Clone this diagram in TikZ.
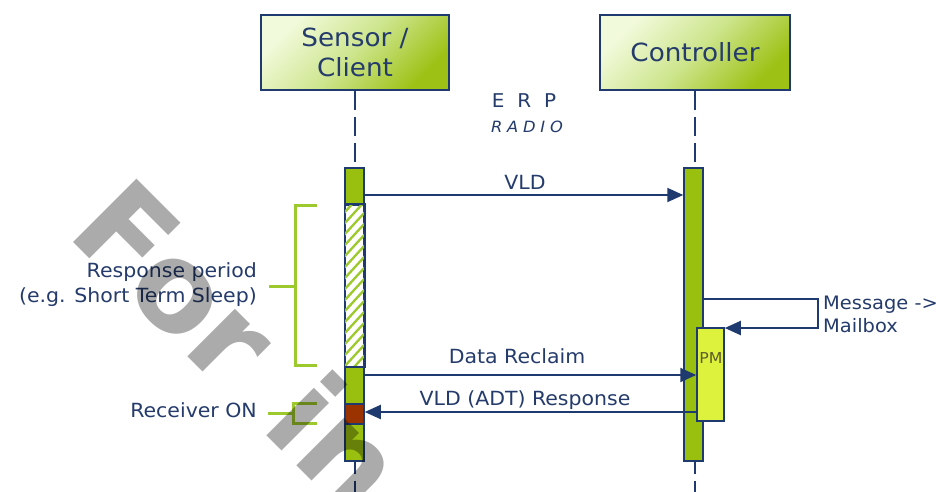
\documentclass[tikz,border=0pt]{standalone}
\usepackage{fontspec}
\setmainfont{DejaVu Sans}[FakeStretch=1.05]
\newfontfamily\wmfont{DejaVu Sans Bold}
\usetikzlibrary{arrows.meta}
\definecolor{navy}{HTML}{1F3A6E}
\definecolor{txt}{HTML}{243B6B}
\definecolor{barg}{HTML}{99BF0F}
\definecolor{brk}{HTML}{9CC92B}
\definecolor{rx}{HTML}{9B3300}
\definecolor{pmy}{HTML}{DDF23C}
\definecolor{boxlight}{HTML}{F2FADC}
\definecolor{boxmid}{HTML}{CDE58C}
\definecolor{boxdark}{HTML}{9DC114}
\definecolor{pmtxt}{HTML}{5B5B2B}
\tikzset{
 lifebox/.style={draw=navy, line width=1.8pt, top color=boxlight, bottom color=boxdark, middle color=boxmid, shading angle=45,
   minimum height=75pt, inner sep=0pt, font=\fontsize{25}{30}\selectfont, text=txt, align=center},
 lifeline/.style={draw=navy, line width=2pt, dash pattern=on 19pt off 7pt},
 barseg/.style={draw=navy, line width=1.5pt, minimum width=19pt, inner sep=0pt, anchor=north},
 msg/.style={draw=navy, line width=2pt, -{Triangle[length=16pt,width=14pt]}},
 lbl/.style={font=\fontsize{19.5}{24}\selectfont, text=txt, inner sep=0pt},
 bracketline/.style={draw=brk, line width=3pt},
}
\begin{document}
\begin{tikzpicture}[x=1pt,y=-1pt]
\useasboundingbox (0,0) rectangle (941,491);
\fill[white] (0,0) rectangle (941,491);
\clip (0,0) rectangle (941,491);
% lifeline heads
\node[lifebox, minimum width=188pt] (sensor) at (355,52.5) {Sensor /\\Client};
\node[lifebox, minimum width=190pt] (ctrl) at (695,52.5) {Controller};
\coordinate (sEnd) at (355,495);
\coordinate (cEnd) at (695,495);
\draw[lifeline] (sensor.south) -- (sEnd);
\draw[lifeline] (ctrl.south) -- (cEnd);
% ERP radio
\node[font=\fontsize{19}{22}\selectfont, text=txt, inner sep=0pt] (erp) at (524,101) {\spaceskip=13pt\relax E R P};
\node[font=\itshape\fontsize{15.5}{18}\selectfont, text=txt, inner sep=0pt] (radio) at (527,127) {\spaceskip=4.8pt\relax R A D I O};
% sensor bar
\node[barseg, fill=barg, minimum height=37pt] (sb1) at (354.5,167) {};
\node[barseg, fill=white, minimum height=162pt] (sb2) at (354.5,204) {};
\begin{scope}
\clip (sb2.south west) rectangle (sb2.north east);
\foreach \i in {0,...,18} {
  \draw[brk, line width=2.3pt] (344,{202+\i*11}) -- ++(22,-24);
}
\end{scope}
\draw[navy, line width=1.5pt] (sb2.south west) rectangle (sb2.north east);
\node[barseg, fill=barg, minimum height=37pt] (sb3) at (354.5,366) {};
\node[barseg, fill=rx, minimum height=20pt] (sb4) at (354.5,403) {};
\node[barseg, fill=barg, minimum height=37pt] (sb5) at (354.5,423) {};
% controller bar
\node[barseg, fill=barg, minimum height=293pt] (cbar) at (693.5,167) {};
\node[barseg, fill=pmy, minimum width=27pt, minimum height=93pt] (pm) at (710.5,327) {};
\node[font=\fontsize{15}{17}\selectfont, text=pmtxt, inner sep=0pt] (pmlbl) at (711,358) {PM};
% messages
\coordinate (yVLD) at (0,195);
\coordinate (yDR) at (0,375);
\coordinate (yResp) at (0,412);
\draw[msg] (sb1.east |- yVLD) -- (cbar.west |- yVLD);
\node[lbl] (lVLD) at (525,182) {VLD};
\coordinate (selfA) at (818,299);
\coordinate (selfB) at (818,328);
\draw[msg] (cbar.east |- selfA) -- (selfA) -- (selfB) -- (pm.east |- selfB);
\node[lbl, anchor=west, align=left, font=\fontsize{18.5}{23}\selectfont] (lMsg) at (823,314) {Message ->\\Mailbox};
\draw[msg] (sb3.east |- yDR) -- (pm.west |- yDR);
\node[lbl] (lDR) at (517,356) {Data Reclaim};
\draw[msg] (pm.west |- yResp) -- (sb4.east |- yResp);
\node[lbl] (lResp) at (525,400) {VLD (ADT) Response};
% brackets
\coordinate (b1a) at (317,205);
\coordinate (b1b) at (295,205);
\coordinate (b1c) at (295,365);
\coordinate (b1d) at (317,365);
\coordinate (b1m) at (269,286);
\coordinate (b1n) at (295,286);
\draw[bracketline] (b1a) -- (b1b) -- (b1c) -- (b1d);
\draw[bracketline] (b1m) -- (b1n);
\node[lbl, anchor=east, align=right, font=\fontsize{19.5}{25}\selectfont] (lResp2) at (257,285) {Response period\\(e.g. Short Term Sleep)};
\coordinate (b2a) at (317,403);
\coordinate (b2b) at (293,403);
\coordinate (b2c) at (293,423);
\coordinate (b2d) at (317,423);
\coordinate (b2m) at (268,413);
\coordinate (b2n) at (293,413);
\draw[bracketline] (b2a) -- (b2b) -- (b2c) -- (b2d);
\draw[bracketline] (b2m) -- (b2n);
\node[lbl, anchor=east] (lRx) at (257,410) {Receiver ON};
% watermark
\node[font=\wmfont\fontsize{123}{123}\selectfont, text=black, text opacity=0.33, rotate=-45, anchor=base west, inner sep=0pt] (wm) at (65,234) {For\hspace{8pt} in};
\end{tikzpicture}
\end{document}
